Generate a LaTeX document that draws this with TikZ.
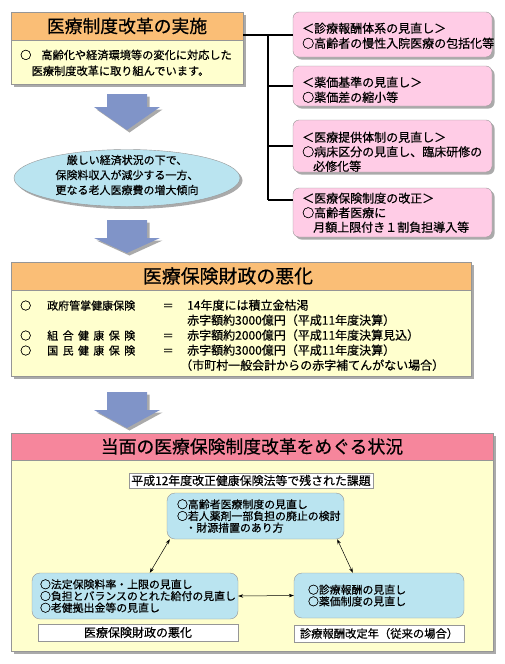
\documentclass[tikz,border=0pt]{standalone}
\usepackage{fontspec}
\setmainfont{Noto Sans CJK JP}[FakeBold=0.5]
\usepackage{array}
\usepackage{tikz}
\usetikzlibrary{arrows.meta, calc, shapes.geometric, shadows}
\usepackage{xcolor}

\definecolor{hdrorange}{RGB}{250,190,118}
\definecolor{hdrpink}{RGB}{246,134,156}
\definecolor{bodyyellow}{RGB}{255,255,206}
\definecolor{boxpink}{RGB}{255,204,230}
\definecolor{arrowblue}{RGB}{128,148,200}
\definecolor{paleblue}{RGB}{186,228,240}
\definecolor{edgegray}{RGB}{150,150,150}
\definecolor{shadegray}{RGB}{170,170,170}

\newcommand{\jsize}[2]{\fontsize{#1}{#2}\selectfont}

\begin{document}
\begin{tikzpicture}[x=1pt, y=-1pt, >=stealth,
  castshadow/.style={drop shadow={shadow xshift=2.5pt, shadow yshift=-2.5pt, fill=shadegray, opacity=1}},
  hdr/.style={draw=edgegray, minimum height=28pt, inner sep=0pt, font=\jsize{17.8}{17.8}},
  panel/.style={draw=edgegray, fill=bodyyellow, inner sep=0pt},
  pinkbox/.style={draw=edgegray, fill=boxpink, rounded corners=6pt, minimum width=199pt, castshadow},
  bluebox/.style={draw=edgegray, fill=paleblue, rounded corners=8pt, align=left, font=\jsize{10.9}{11.7}},
  tag/.style={draw=edgegray, fill=white, inner sep=0pt},
  txt/.style={inner sep=0pt, anchor=north west, align=left},
  blockarrow/.style={fill=arrowblue, castshadow},
  link/.style={line width=2pt},
  dbl/.style={{Stealth[length=5pt,width=3.5pt]}-{Stealth[length=5pt,width=3.5pt]}, line width=0.5pt}]
  \useasboundingbox (0,0) rectangle (504,664);

  \node[hdr, fill=hdrorange, minimum width=232pt, castshadow] (reform) at (127,26) {医療制度改革の実施};
  \node[panel, minimum width=232pt, minimum height=44pt, castshadow] (reformbody) at (127,62) {};
  \node[txt, font=\jsize{11.2}{16}] (reformtxt) at (20,49.5) {○\hspace{10pt}高齢化や経済環境等の変化に対応した\\\hspace*{11.5pt}医療制度改革に取り組んでいます。};

  \node[pinkbox, minimum height=45pt] (fee) at (392.5,34.5) {};
  \node[pinkbox, minimum height=40pt] (drug) at (392.5,86) {};
  \node[pinkbox, minimum height=52pt] (supply) at (392.5,146) {};
  \node[pinkbox, minimum height=49pt] (insur) at (392.5,212.5) {};
  \node[txt, font=\jsize{12}{15}] (feetxt) at (302,22.5) {＜診療報酬体系の見直し＞\\○高齢者の慢性入院医療の包括化等};
  \node[txt, font=\jsize{12}{15}] (drugtxt) at (302,76.5) {＜薬価基準の見直し＞\\○薬価差の縮小等};
  \node[txt, font=\jsize{12}{14.5}] (supplytxt) at (302,131.5) {＜医療提供体制の見直し＞\\○病床区分の見直し、臨床研修の\\\hspace*{11pt}必修化等};
  \node[txt, font=\jsize{12}{14.5}] (insurtxt) at (302,192.5) {＜医療保険制度の改正＞\\○高齢者医療に\\\hspace*{11pt}月額上限付き１割負担導入等};

  \coordinate (spine) at (268,200);
  \draw[link] (reform.east |- fee.west) -- (fee.west);
  \draw[link] (spine |- fee.west) -- (spine);
  \draw[link] (spine |- drug.west) -- (drug.west);
  \draw[link] (spine |- supply.west) -- (supply.west);
  \draw[link] (spine) -- (spine -| insur.west);

  \fill[blockarrow] (107,94) -- (147,94) -- (147,107) -- (160,107) -- (127,130) -- (94,107) -- (107,107) -- cycle;
  \node[ellipse, draw=edgegray, fill=paleblue, minimum width=226pt, minimum height=57pt, castshadow] (trend) at (127,178) {};
  \node[font=\jsize{11}{15}, align=center, inner sep=0pt] (trendtxt) at (127,175) {厳しい経済状況の下で、\\保険料収入が減少する一方、\\更なる老人医療費の増大傾向};
  \fill[blockarrow] (107,220) -- (147,220) -- (147,238) -- (160,238) -- (127,253) -- (94,238) -- (107,238) -- cycle;

  \node[hdr, fill=hdrorange, minimum width=460pt, castshadow] (deficit) at (241,276) {};
  \node[panel, minimum width=460pt, minimum height=86pt, castshadow] (deficitbody) at (241,333) {};
  \node[font=\jsize{18.9}{18.9}, inner sep=0pt] (deficittitle) at (228,276) {医療保険財政の悪化};
  \node[txt, font=\jsize{11}{15}] (deficittxt) at (20,299) {%
    \begin{tabular}{@{}l@{\hspace{16pt}}l@{\hspace{27.5pt}}l@{\hspace{13.5pt}}>{\jsize{12}{15}}l@{}}
      ○ & 政府管掌健康保険 & ＝ & 14年度には積立金枯渇\\
        & & & 赤字額約3000億円（平成11年度決算）\\
      ○ & \makebox[88pt][s]{組\hfill 合\hfill 健\hfill 康\hfill 保\hfill 険} & ＝ & 赤字額約2000億円（平成11年度決算見込）\\
      ○ & \makebox[88pt][s]{国\hfill 民\hfill 健\hfill 康\hfill 保\hfill 険} & ＝ & 赤字額約3000億円（平成11年度決算）\\
        & & & \hspace*{-7pt}（市町村一般会計からの赤字補てんがない場合）
    \end{tabular}};

  \fill[blockarrow] (107,392) -- (147,392) -- (147,410) -- (160,410) -- (127,428) -- (94,410) -- (107,410) -- cycle;

  \node[hdr, fill=hdrpink, minimum width=482pt, minimum height=27pt, castshadow] (now) at (252,446.5) {当面の医療保険制度改革をめぐる状況};
  \node[panel, minimum width=482pt, minimum height=191pt, castshadow] (nowbody) at (252,555.5) {};
  \node[tag, minimum width=244pt, minimum height=15pt, font=\jsize{11.9}{11.9}] (issues) at (251,480.5) {平成12年度改正健康保険法等で残された課題};

  \node[bluebox, minimum width=177pt, minimum height=46pt, text width=157pt, inner xsep=10pt] (elder) at (255.5,516) {○高齢者医療制度の見直し\\○若人薬剤一部負担の廃止の検討\\\hspace*{8.5pt}・財源措置のあり方};
  \node[bluebox, minimum width=206pt, minimum height=46pt, text width=190pt, inner xsep=8pt] (finance) at (135,596) {○法定保険料率・上限の見直し\\○負担とバランスのとれた給付の見直し\\○老健拠出金等の見直し};
  \node[bluebox, minimum width=170pt, minimum height=45pt, text width=142pt, inner xsep=14pt] (fees) at (379,595.5) {○診療報酬の見直し\\○薬価制度の見直し};
  \node[tag, minimum width=200pt, minimum height=17pt, font=\jsize{12}{12}] (finlabel) at (138,632.5) {医療保険財政の悪化};
  \node[tag, minimum width=170pt, minimum height=17pt, font=\jsize{11.3}{11.3}] (feelabel) at (379,633.5) {診療報酬改定年（従来の場合）};

  \draw[dbl] ([xshift=3pt]elder.south west) -- ([xshift=118pt]finance.north west);
  \draw[dbl] ([xshift=-7pt]elder.south east) -- ([xshift=59pt]fees.north west);
  \draw[dbl] (finance.east) -- (fees.west);
\end{tikzpicture}
\end{document}
